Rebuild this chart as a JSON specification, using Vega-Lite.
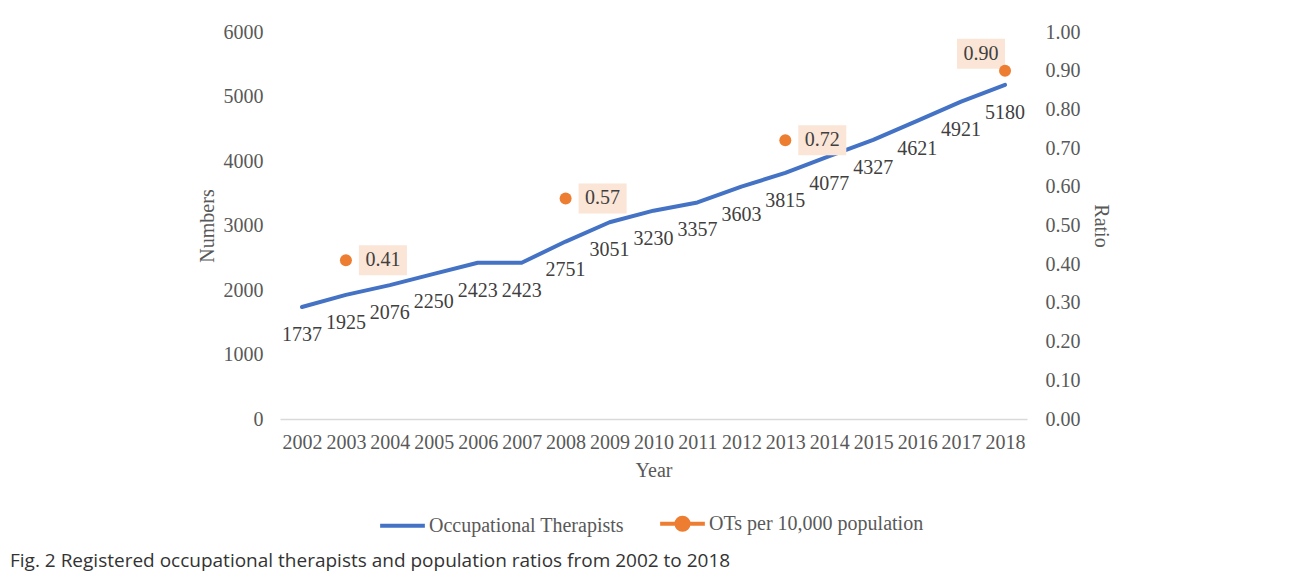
{
  "$schema": "https://vega.github.io/schema/vega-lite/v6.json",
  "autosize": "none",
  "width": 747,
  "height": 387,
  "padding": {"left": 280, "top": 32, "right": 265, "bottom": 163},
  "background": "white",
  "datasets": {
    "ot": [
      {"year": "2002", "count": 1737},
      {"year": "2003", "count": 1925},
      {"year": "2004", "count": 2076},
      {"year": "2005", "count": 2250},
      {"year": "2006", "count": 2423},
      {"year": "2007", "count": 2423},
      {"year": "2008", "count": 2751},
      {"year": "2009", "count": 3051},
      {"year": "2010", "count": 3230},
      {"year": "2011", "count": 3357},
      {"year": "2012", "count": 3603},
      {"year": "2013", "count": 3815},
      {"year": "2014", "count": 4077},
      {"year": "2015", "count": 4327},
      {"year": "2016", "count": 4621},
      {"year": "2017", "count": 4921},
      {"year": "2018", "count": 5180}
    ],
    "ratio": [
      {"year": "2003", "ratio": 0.41},
      {"year": "2008", "ratio": 0.57},
      {"year": "2013", "ratio": 0.72},
      {"year": "2018", "ratio": 0.90}
    ]
  },
  "title": {
    "text": "Fig. 2 Registered occupational therapists and population ratios from 2002 to 2018",
    "orient": "bottom",
    "anchor": "start",
    "frame": "group",
    "dx": -270,
    "offset": 14,
    "font": "Open Sans",
    "fontSize": 19,
    "fontWeight": "normal",
    "color": "#333333"
  },
  "config": {
    "view": {"stroke": null},
    "font": "Liberation Serif",
    "axis": {
      "labelFont": "Liberation Serif",
      "labelFontSize": 20,
      "labelColor": "#595959",
      "titleFont": "Liberation Serif",
      "titleFontSize": 20,
      "titleFontWeight": "normal",
      "titleColor": "#595959",
      "ticks": false,
      "grid": false,
      "domain": false
    },
    "legend": {
      "labelFont": "Liberation Serif",
      "labelFontSize": 20,
      "labelColor": "#595959",
      "labelLimit": 0
    }
  },
  "encoding": {
    "x": {
      "field": "year",
      "type": "ordinal",
      "scale": {"type": "point", "padding": 0.5},
      "axis": {
        "title": "Year",
        "labelAngle": 0,
        "labelPadding": 13,
        "titlePadding": 8,
        "domain": true,
        "domainColor": "#d9d9d9",
        "domainWidth": 1.5
      }
    }
  },
  "layer": [
    {
      "data": {"name": "ot"},
      "encoding": {
        "y": {
          "field": "count",
          "type": "quantitative",
          "scale": {"domain": [0, 6000]},
          "axis": {
            "title": "Numbers",
            "values": [0, 1000, 2000, 3000, 4000, 5000, 6000],
            "format": "d",
            "labelPadding": 17,
            "titlePadding": 6
          }
        }
      },
      "layer": [
        {
          "mark": {"type": "line", "strokeWidth": 4, "strokeCap": "round", "strokeJoin": "round"},
          "encoding": {
            "color": {
              "datum": "Occupational Therapists",
              "type": "nominal",
              "scale": {
                "domain": ["Occupational Therapists", "OTs per 10,000 population"],
                "range": ["#4472C4", "#ED7D31"]
              },
              "legend": {
                "title": null,
                "orient": "none",
                "legendX": 98,
                "legendY": 467,
                "direction": "horizontal",
                "symbolType": "stroke",
                "symbolSize": 2000,
                "symbolStrokeWidth": 4,
                "columnPadding": 28,
                "labelOffset": 2,
                "encode": {
                  "symbols": {
                    "update": {
                      "shape": {"signal": "datum.value === 'OTs per 10,000 population' ? 'M-1,0H1M-0.27,0A0.27,0.27 0 1,0 0.27,0A0.27,0.27 0 1,0 -0.27,0Z' : 'stroke'"},
                      "fill": {"signal": "datum.value === 'OTs per 10,000 population' ? '#ED7D31' : 'transparent'"}
                    }
                  }
                }
              }
            }
          }
        },
        {
          "mark": {"type": "text", "dy": 28, "fontSize": 20, "color": "#404040", "font": "Liberation Serif"},
          "encoding": {"text": {"field": "count", "type": "quantitative", "format": "d"}}
        }
      ]
    },
    {
      "data": {"name": "ratio"},
      "encoding": {
        "y": {
          "field": "ratio",
          "type": "quantitative",
          "scale": {"domain": [0, 1]},
          "axis": {
            "title": "Ratio",
            "orient": "right",
            "values": [0, 0.1, 0.2, 0.3, 0.4, 0.5, 0.6, 0.7, 0.8, 0.9, 1.0],
            "format": ".2f",
            "labelPadding": 18,
            "titlePadding": 10
          }
        }
      },
      "layer": [
        {
          "transform": [{"filter": "datum.year !== '2018'"}],
          "mark": {"type": "point", "shape": "M-1,-0.625H1V0.625H-1Z", "size": 2304, "filled": true, "opacity": 1, "color": "#FBE5D6", "xOffset": 37, "yOffset": 0}
        },
        {
          "transform": [{"filter": "datum.year === '2018'"}],
          "mark": {"type": "point", "shape": "M-1,-0.625H1V0.625H-1Z", "size": 2304, "filled": true, "opacity": 1, "color": "#FBE5D6", "xOffset": -24, "yOffset": -17}
        },
        {
          "mark": {"type": "point", "filled": true, "opacity": 1, "size": 144},
          "encoding": {"color": {"datum": "OTs per 10,000 population", "type": "nominal"}}
        },
        {
          "transform": [{"filter": "datum.year !== '2018'"}],
          "mark": {"type": "text", "fontSize": 20, "color": "#404040", "font": "Liberation Serif", "dx": 37},
          "encoding": {"text": {"field": "ratio", "type": "quantitative", "format": ".2f"}}
        },
        {
          "transform": [{"filter": "datum.year === '2018'"}],
          "mark": {"type": "text", "fontSize": 20, "color": "#404040", "font": "Liberation Serif", "dx": -24, "dy": -17},
          "encoding": {"text": {"field": "ratio", "type": "quantitative", "format": ".2f"}}
        }
      ]
    }
  ],
  "resolve": {"scale": {"y": "independent"}}
}
